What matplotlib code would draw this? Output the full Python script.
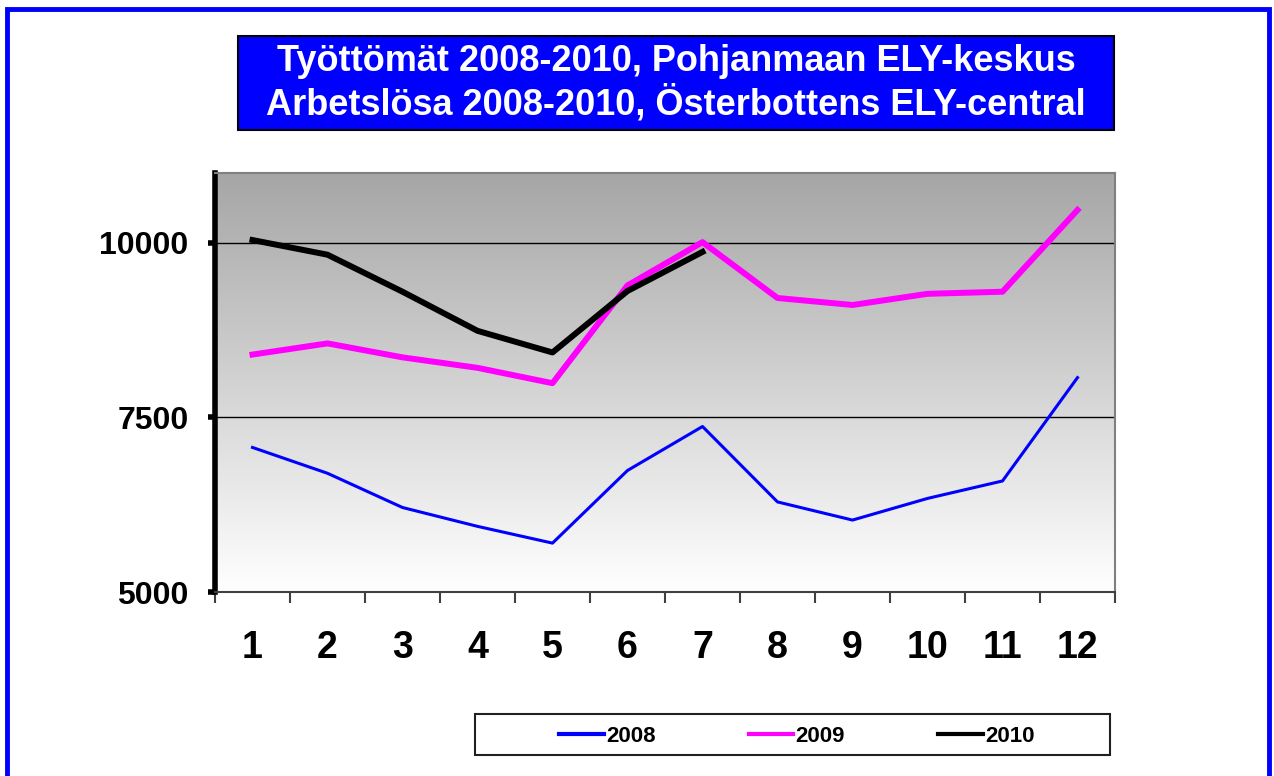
import matplotlib.pyplot as plt
import numpy as np
from matplotlib.patches import Rectangle
from matplotlib.colors import LinearSegmentedColormap
from matplotlib.lines import Line2D

plt.rcParams['font.family'] = ['Liberation Sans', 'DejaVu Sans']

# data
months = [1, 2, 3, 4, 5, 6, 7, 8, 9, 10, 11, 12]
y2008 = [7070, 6700, 6210, 5940, 5700, 6740, 7370, 6290, 6030, 6340, 6590, 8070]
y2009 = [8400, 8560, 8360, 8210, 7990, 9390, 10010, 9210, 9110, 9270, 9300, 10470]
y2010 = [10040, 9830, 9300, 8740, 8430, 9310, 9870]
yticks = [5000, 7500, 10000]
title = "Työttömät 2008-2010, Pohjanmaan ELY-keskus\nArbetslösa 2008-2010, Österbottens ELY-central"

W, H = 1274, 776
fig = plt.figure(figsize=(W / 100, H / 100), dpi=100)
ax = fig.add_axes([215 / W, 1 - 592 / H, 900 / W, 419 / H])

# gradient background, grey on top fading to white
cm = LinearSegmentedColormap.from_list('bg', ['#ffffff', '#a6a6a6'])
grad = np.linspace(0, 1, 256).reshape(-1, 1)
ax.imshow(grad, cmap=cm, aspect='auto', extent=[0, 1, 0, 1],
          transform=ax.transAxes, zorder=0, origin='lower')

ax.set_xlim(0.5, 12.5)
ax.set_ylim(5000, 11000)

for y in yticks[1:]:
    ax.axhline(y, color='black', lw=1.0, zorder=1)

ax.plot(months, y2008, color='#0000FF', lw=2.2, label='2008', zorder=3)
ax.plot(months, y2009, color='#FF00FF', lw=4.3, label='2009', zorder=3)
ax.plot(months[:len(y2010)], y2010, color='black', lw=4.3, label='2010', zorder=4)

# axes styling
ax.spines['left'].set_linewidth(4)
ax.spines['left'].set_color('black')
for s in ['top', 'right']:
    ax.spines[s].set_color('#808080')
    ax.spines[s].set_linewidth(1.5)
ax.spines['bottom'].set_color('#404040')
ax.spines['bottom'].set_linewidth(1.5)

ax.set_yticks(yticks)
ax.set_yticklabels([str(v) for v in yticks], fontsize=23, fontweight='bold')
ax.tick_params(axis='y', length=5, width=4, pad=14)

ax.set_xticks(np.arange(0.5, 13, 1))
ax.set_xticklabels([])
ax.tick_params(axis='x', which='major', length=8, width=1.5, color='#404040')
ax.set_xticks(months, minor=True)
ax.set_xticklabels([str(m) for m in months], minor=True, fontsize=27, fontweight='bold',
                   family=['Liberation Sans Narrow', 'Liberation Sans'])
ax.tick_params(axis='x', which='minor', length=0, pad=27)

# title box
fig.patches.append(Rectangle((238 / W, 1 - 130 / H), 876 / W, 94 / H, transform=fig.transFigure,
                             fc='#0000FF', ec='black', lw=1.5))
fig.text(676 / W, 1 - 83 / H, title, ha='center', va='center', color='white',
         fontsize=26, fontweight='bold', linespacing=1.2)

# legend
fig.patches.append(Rectangle((475 / W, 1 - 755 / H), 635 / W, 41 / H, transform=fig.transFigure,
                             fill=False, ec='#202020', lw=1.5))
leg = fig.legend(loc='center', bbox_to_anchor=(797 / W, 1 - 736 / H),
                 ncol=3, frameon=False, handlelength=2.0, handletextpad=0.1,
                 columnspacing=4.2, prop=dict(size=16, weight='bold'))
for line in leg.get_lines():
    line.set_linewidth(3)

# blue outer frame
fig.patches.append(Rectangle((7 / W, -0.05), 1262 / W, 1.05 - 9 / H, transform=fig.transFigure,
                             fill=False, ec='#0000FF', lw=3.5))

fig.savefig('out.png', dpi=100)
